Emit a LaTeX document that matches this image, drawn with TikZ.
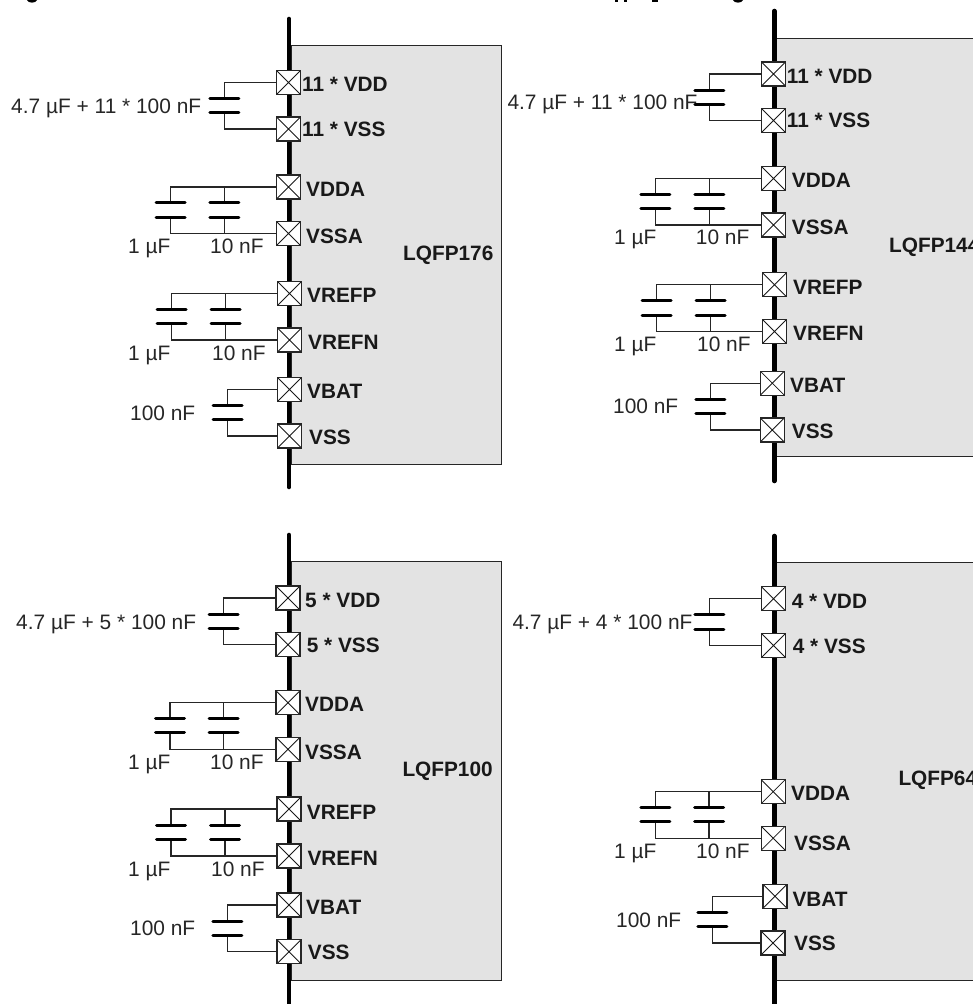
\documentclass[tikz,border=0pt]{standalone}
\usepackage{fontspec}
\setmainfont{Liberation Sans}
\tikzset{
  x=1pt,y=-1pt,
  chip/.style={draw=black!85,line width=1.1pt,fill=black!11},
  bus/.style={line width=4.6pt,line cap=round,black},
  wire/.style={line width=1.1pt,black!85},
  plate/.style={line width=3pt,line cap=round,black},
  pad/.style={draw=black!85,fill=white,line width=1.1pt,minimum size=24pt,inner sep=0pt,rectangle,
    path picture={\draw[line width=0.8pt,black!90] (path picture bounding box.north west)--(path picture bounding box.south east)
      (path picture bounding box.north east)--(path picture bounding box.south west);}},
  pin/.style={font=\fontsize{20.8}{24}\selectfont\bfseries,anchor=west,inner sep=0pt,text height=15pt,text depth=0pt,black!90},
  val/.style={font=\fontsize{20.9}{24}\selectfont,anchor=west,inner sep=0pt,text height=15pt,text depth=0pt,black!85},
  titlebit/.style={fill=black,draw=none}
}
% capacitor between two pads: {top pad}{bottom pad}{x}{plate 1 y}{plate 2 y}
\newcommand{\capac}[5]{%
  \coordinate (ct) at (#3,#4);
  \coordinate (cb) at (#3,#5);
  \draw[wire] (#1.west) -| (ct);
  \draw[wire] (#2.west) -| (cb);
  \draw[plate] ([xshift=-14.5pt]ct) -- ([xshift=14.5pt]ct);
  \draw[plate] ([xshift=-14.5pt]cb) -- ([xshift=14.5pt]cb);
}
\begin{document}
\begin{tikzpicture}
\useasboundingbox (0,0) rectangle (973,1004);
\clip (0,0) rectangle (973,1004);
% cut-off bits of the title line at the top edge
\fill[titlebit] (27,0) .. controls (28,3.5) and (36,3.5) .. (37,0) -- cycle;
\fill[titlebit] (615,0) rectangle (617.5,2);
\fill[titlebit] (624,0) rectangle (626.5,2);
\fill[titlebit] (652,0) rectangle (658,2);
\fill[titlebit] (733,0) .. controls (734,3.5) and (742,3.5) .. (743,0) -- cycle;

% ---------- LQFP176 ----------
\node[chip,minimum width=0pt,anchor=north west,inner sep=0pt,minimum height=419pt,text width=210pt] (chipA) at (291,45) {};
\coordinate (busAt) at (289,19); \coordinate (busAb) at (289,487);
\draw[bus] (busAt) -- (busAb);
\node[pad] (a1) at (288.5,82.5) {};
\node[pad] (a2) at (288.5,129) {};
\node[pad] (a3) at (288.5,187) {};
\node[pad] (a4) at (288.5,233.5) {};
\node[pad] (a5) at (289.5,293.5) {};
\node[pad] (a6) at (289.5,340) {};
\node[pad] (a7) at (289.5,389.5) {};
\node[pad] (a8) at (289.5,436) {};
\capac{a1}{a2}{224.4}{98.3}{112.7}
\capac{a3}{a4}{170.7}{202.3}{217}
\capac{a3}{a4}{224.4}{202.3}{217}
\capac{a5}{a6}{171.7}{309.3}{323.7}
\capac{a5}{a6}{225.7}{309.3}{323.7}
\capac{a7}{a8}{227.7}{405.3}{419.7}
\node[val] (av1) at (11,105.7) {4.7 µF + 11 * 100 nF};
\node[val] (av2) at (128,246) {1 µF};
\node[val] (av3) at (210,246) {10 nF};
\node[val] (av4) at (128,353) {1 µF};
\node[val] (av5) at (212,353) {10 nF};
\node[val] (av6) at (130,413) {100 nF};
\node[pin] (ap1) at (302,84) {11 * VDD};
\node[pin] (ap2) at (302,129.3) {11 * VSS};
\node[pin] (ap3) at (306,189) {VDDA};
\node[pin] (ap4) at (306,236) {VSSA};
\node[pin] (ap5) at (307,295) {VREFP};
\node[pin] (ap6) at (308,342) {VREFN};
\node[pin] (ap7) at (307,391) {VBAT};
\node[pin] (ap8) at (309,437) {VSS};
\node[pin] (an) at (403,253) {LQFP176};

% ---------- LQFP144 ----------
\node[chip,anchor=north west,inner sep=0pt,minimum height=418.5pt,text width=230pt] (chipB) at (776,37.5) {};
\coordinate (busBt) at (774.3,11); \coordinate (busBb) at (774.3,481);
\draw[bus] (busBt) -- (busBb);
\node[pad] (b1) at (773.5,74) {};
\node[pad] (b2) at (773.5,120.5) {};
\node[pad] (b3) at (773.5,178.5) {};
\node[pad] (b4) at (773.5,225) {};
\node[pad] (b5) at (774.5,284.7) {};
\node[pad] (b6) at (774.5,331.5) {};
\node[pad] (b7) at (772.3,383.2) {};
\node[pad] (b8) at (772.3,430) {};
\node[val] (bv1) at (507.3,101.7) {4.7 µF + 11 * 100 nF};
\capac{b1}{b2}{709.3}{90}{104.3}
\capac{b3}{b4}{655.3}{194}{208.7}
\capac{b3}{b4}{709.3}{194}{208.7}
\capac{b5}{b6}{656.7}{300.7}{315.3}
\capac{b5}{b6}{710.7}{300.7}{315.3}
\capac{b7}{b8}{710.3}{399}{413.7}
\node[val] (bv2) at (614,237.3) {1 µF};
\node[val] (bv3) at (695.7,237.3) {10 nF};
\node[val] (bv4) at (614,344.3) {1 µF};
\node[val] (bv5) at (697,344.3) {10 nF};
\node[val] (bv6) at (613,405.7) {100 nF};
\node[pin] (bp1) at (786.7,76) {11 * VDD};
\node[pin] (bp2) at (786.7,120) {11 * VSS};
\node[pin] (bp3) at (791.7,180) {VDDA};
\node[pin] (bp4) at (791.7,226.7) {VSSA};
\node[pin] (bp5) at (793,287.3) {VREFP};
\node[pin] (bp6) at (793,333) {VREFN};
\node[pin] (bp7) at (790,385) {VBAT};
\node[pin] (bp8) at (791.7,430.7) {VSS};
\node[pin] (bn) at (889,245) {LQFP144};

% ---------- LQFP100 ----------
\node[chip,anchor=north west,inner sep=0pt,minimum height=418.7pt,text width=210pt] (chipC) at (291,561.3) {};
\coordinate (busCt) at (289,535); \coordinate (busCb) at (289,1004);
\draw[bus] (busCt) -- (busCb);
\node[pad] (c1) at (288,598) {};
\node[pad] (c2) at (288,644.7) {};
\node[pad] (c3) at (288,702.7) {};
\node[pad] (c4) at (288,749.3) {};
\node[pad] (c5) at (289,809) {};
\node[pad] (c6) at (289,856) {};
\node[pad] (c7) at (289,905) {};
\node[pad] (c8) at (289,951.7) {};
\capac{c1}{c2}{223.7}{614}{628.3}
\capac{c3}{c4}{170}{718}{732.3}
\capac{c3}{c4}{223.7}{718}{732.3}
\capac{c5}{c6}{171}{825}{839.3}
\capac{c5}{c6}{225}{825}{839.3}
\capac{c7}{c8}{227.3}{921}{935.3}
\node[val] (cv1) at (16,621.7) {4.7 µF + 5 * 100 nF};
\node[val] (cv2) at (128,761.7) {1 µF};
\node[val] (cv3) at (210,761.7) {10 nF};
\node[val] (cv4) at (128,869) {1 µF};
\node[val] (cv5) at (211,869) {10 nF};
\node[val] (cv6) at (130,928) {100 nF};
\node[pin] (cp1) at (305,600) {5 * VDD};
\node[pin] (cp2) at (306.7,645) {5 * VSS};
\node[pin] (cp3) at (305,704.3) {VDDA};
\node[pin] (cp4) at (305,752) {VSSA};
\node[pin] (cp5) at (306.7,811.7) {VREFP};
\node[pin] (cp6) at (307.3,857.7) {VREFN};
\node[pin] (cp7) at (306,906.7) {VBAT};
\node[pin] (cp8) at (307.7,952.3) {VSS};
\node[pin] (cn) at (402.3,769) {LQFP100};

% ---------- LQFP64 ----------
\node[chip,anchor=north west,inner sep=0pt,minimum height=418.3pt,text width=230pt] (chipD) at (776,562) {};
\coordinate (busDt) at (774.3,536); \coordinate (busDb) at (774.3,1004);
\draw[bus] (busDt) -- (busDb);
\node[pad] (d1) at (773.5,598.7) {};
\node[pad] (d2) at (773.5,645.5) {};
\node[pad] (d3) at (773.2,791.7) {};
\node[pad] (d4) at (773.2,838.2) {};
\node[pad] (d5) at (775,896.2) {};
\node[pad] (d6) at (773,943) {};
\node[val] (dv1) at (512.3,622.3) {4.7 µF + 4 * 100 nF};
\capac{d1}{d2}{709.3}{614.7}{629}
\capac{d3}{d4}{655.3}{807.3}{821.7}
\capac{d3}{d4}{709}{807.3}{821.7}
\capac{d5}{d6}{712.3}{912.3}{926.7}
\node[val] (dv2) at (614,850.7) {1 µF};
\node[val] (dv3) at (696,850.7) {10 nF};
\node[val] (dv4) at (616,920) {100 nF};
\node[pin] (dp1) at (791.7,601) {4 * VDD};
\node[pin] (dp2) at (792.7,646) {4 * VSS};
\node[pin] (dp3) at (791,793.3) {VDDA};
\node[pin] (dp4) at (794,842.7) {VSSA};
\node[pin] (dp5) at (792.3,899.3) {VBAT};
\node[pin] (dp6) at (794,943.3) {VSS};
\node[pin] (dn) at (898.3,777.7) {LQFP64};
\end{tikzpicture}
\end{document}
